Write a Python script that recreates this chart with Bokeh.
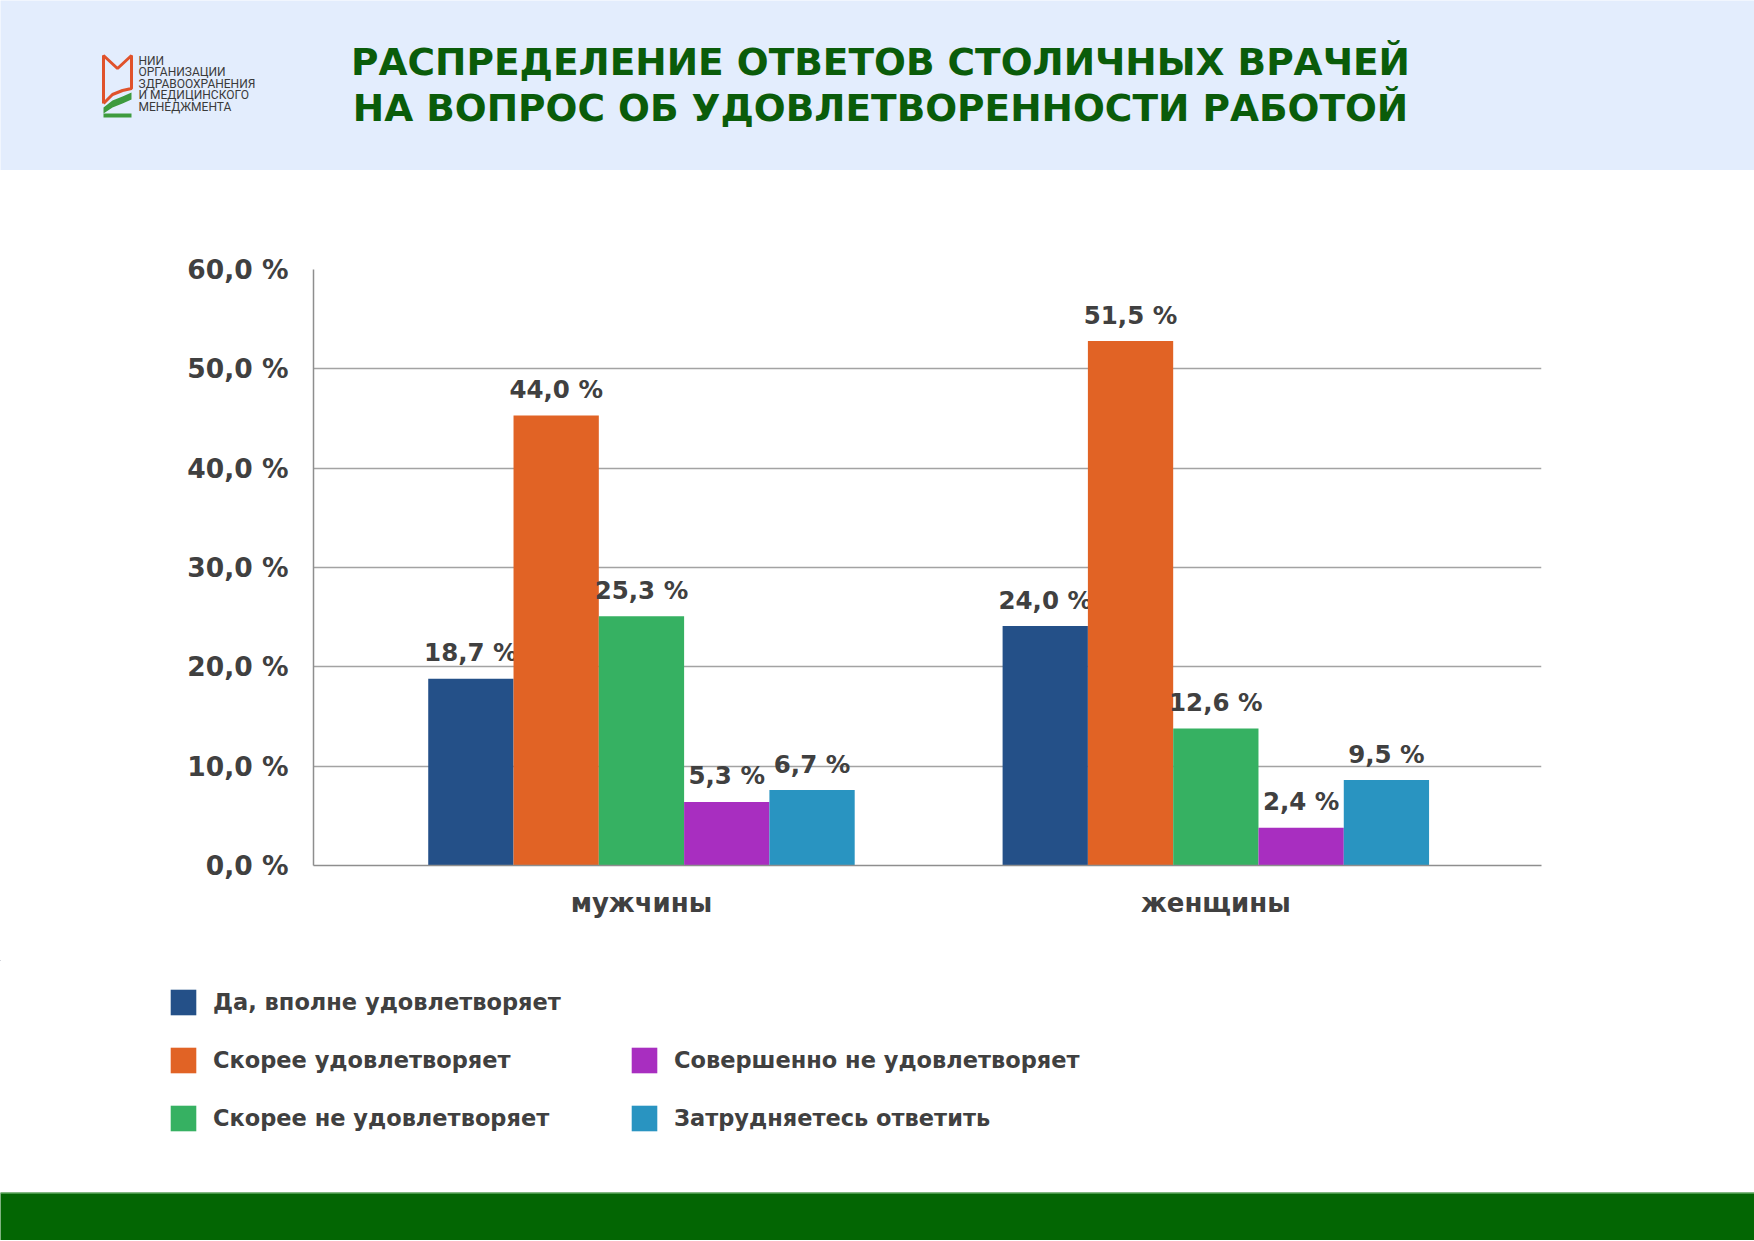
from bokeh.core.properties import value
from bokeh.embed import file_html
from bokeh.models import ColumnDataSource, FixedTicker, Legend, LegendItem
from bokeh.plotting import figure
from bokeh.resources import INLINE

# --- data ---
categories = ["мужчины", "женщины"]
answers = ["Да, вполне удовлетворяет", "Скорее удовлетворяет",
           "Скорее не удовлетворяет", "Совершенно не удовлетворяет",
           "Затрудняетесь ответить"]
colors = ["#245088", "#e16325", "#36b162", "#a82ec0", "#2994c1"]

# percentages printed above the bars
men_printed = [18.7, 44.0, 25.3, 5.3, 6.7]
women_printed = [24.0, 51.5, 12.6, 2.4, 9.5]
# bar heights as they are drawn in the picture (they differ slightly from the labels)
men_bars = [18.8, 45.3, 25.1, 6.4, 7.6]
women_bars = [24.1, 52.8, 13.8, 3.8, 8.6]

y_ticks = [0, 10, 20, 30, 40, 50, 60]

title_lines = ["РАСПРЕДЕЛЕНИЕ ОТВЕТОВ СТОЛИЧНЫХ ВРАЧЕЙ",
               "НА ВОПРОС ОБ УДОВЛЕТВОРЕННОСТИ РАБОТОЙ"]
logo_lines = ["НИИ", "ОРГАНИЗАЦИИ", "ЗДРАВООХРАНЕНИЯ", "И МЕДИЦИНСКОГО", "МЕНЕДЖМЕНТА"]

W = 1754
FONT = "DejaVu Sans"
TEXT = "#404040"
HEAD_BG = "#e3edfd"
GREEN = "#0a5c0a"


def pct(v):
    return f"{v:.1f}".replace(".", ",") + " %"


def blank(y0, y1, bg):
    # a figure whose frame is the whole canvas, in page pixel coordinates
    p = figure(width=W, height=y1 - y0, x_range=(0, W), y_range=(y1, y0),
               x_axis_type=None, y_axis_type=None, output_backend="svg",
               toolbar_location=None, tools="", min_border=0,
               background_fill_color=bg, border_fill_color=bg,
               outline_line_color=None)
    p.grid.visible = False
    return p


# --- header band with logo and title ---
head = blank(0, 170, HEAD_BG)
head.text(x=[880] * 2, y=[61, 107], text=title_lines, text_font=value(FONT),
          text_font_style="bold", text_font_size="37.5px", text_color=GREEN,
          text_align="center", text_baseline="middle")
# logo mark (rough shapes)
head.line(x=[103, 103, 117, 131, 131, 122, 112, 103], y=[103, 55, 68, 55, 88, 90, 94, 103],
          line_color="#e0522b", line_width=3)
head.patch(x=[103, 112, 122, 131, 131, 122, 112, 103], y=[107, 100, 96, 92, 99, 103, 107, 113],
           fill_color="#3e9b3e", line_color=None)
head.quad(left=[103], right=[131], top=[113], bottom=[117], fill_color="#3e9b3e", line_color=None)
head.text(x=[138] * 5, y=[60, 71.5, 83, 94.5, 106], text=logo_lines, text_font=value("Roboto"),
          text_font_size="12px", text_color="#3a3a3a", text_baseline="middle")

# --- chart ---
chart = figure(width=W, height=790, x_range=(-0.571, 1.567), y_range=(0, 60),
               output_backend="svg", toolbar_location=None, tools="",
               min_border_left=313, min_border_right=213,
               min_border_top=99, min_border_bottom=95,
               background_fill_color="white", border_fill_color="white",
               outline_line_color=None)

bar_w = 0.1485
for j, col in enumerate(colors):
    src = ColumnDataSource(dict(
        x=[i + (j - 2) * bar_w for i in range(len(categories))],
        top=[men_bars[j], women_bars[j]],
        label=[pct(men_printed[j]), pct(women_printed[j])],
    ))
    chart.vbar(x="x", top="top", bottom=0, width=bar_w, source=src,
               fill_color=col, line_color=None)
    chart.text(x="x", y="top", text="label", source=src, text_font=value(FONT),
               text_font_style="bold", text_font_size="24.5px", text_color=TEXT,
               text_align="center", text_baseline="middle", y_offset=-26)

chart.xgrid.visible = False
chart.ygrid.ticker = FixedTicker(ticks=y_ticks)
chart.ygrid.grid_line_color = "#a3a3a3"
chart.ygrid.grid_line_width = 1.5

chart.yaxis.ticker = FixedTicker(ticks=y_ticks)
chart.yaxis.major_label_overrides = {t: pct(t) for t in y_ticks}
chart.xaxis.ticker = FixedTicker(ticks=list(range(len(categories))))
chart.xaxis.major_label_overrides = {i: c for i, c in enumerate(categories)}
for ax in (chart.xaxis, chart.yaxis):
    ax.axis_line_color = "#8e8e8e"
    ax.axis_line_width = 1.5
    ax.major_tick_line_color = None
    ax.minor_tick_line_color = None
    ax.major_label_text_font = FONT
    ax.major_label_text_font_style = "bold"
    ax.major_label_text_color = TEXT
chart.yaxis.major_label_text_font_size = "26.5px"
chart.yaxis.major_label_standoff = 19
chart.xaxis.major_label_text_font_size = "26px"
chart.xaxis.major_label_standoff = 16

# --- legend, laid out as in the reference (one item, then two columns) ---
leg = blank(960, 1192, "white")
items = []
for name, col in zip(answers, colors):
    # swatch source kept outside the visible range: only the legend shows it
    r = leg.vbar(x=[-1000], top=[-1000], bottom=[-1001], width=1,
                 fill_color=col, line_color=None)
    items.append(LegendItem(label=name, renderers=[r]))

leg_kw = dict(glyph_width=32, glyph_height=32, label_standoff=14, spacing=26,
              padding=0, margin=0, label_text_font=FONT, label_text_font_style="bold",
              label_text_font_size="22.5px", label_text_color=TEXT,
              background_fill_alpha=0, border_line_alpha=0)
leg.add_layout(Legend(items=items[:3], location=(167, 58), **leg_kw))
leg.add_layout(Legend(items=items[3:], location=(628, 58), **leg_kw))

# --- footer band ---
foot = blank(1192, 1240, "#036603")
foot.segment(x0=[0], x1=[W], y0=[1192.5], y1=[1192.5], line_color="#8cc98c", line_width=1)

p = [head, chart, leg, foot]
open("out.html", "w").write(file_html(p, INLINE))
